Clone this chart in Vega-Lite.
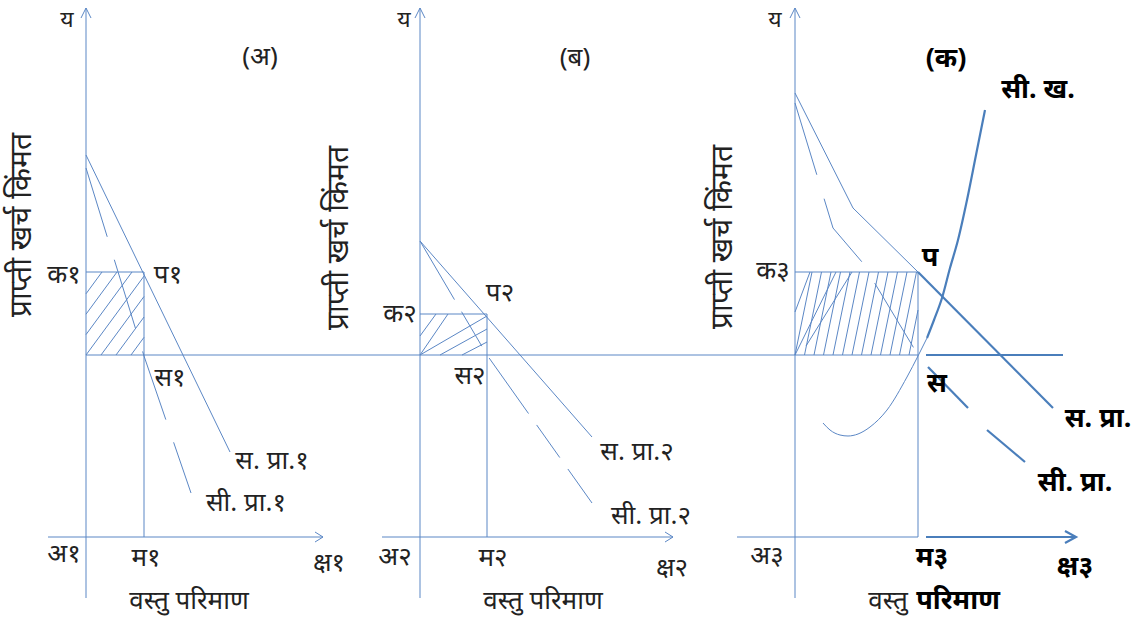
{
  "$schema": "https://vega.github.io/schema/vega-lite/v6.json",
  "width": 1148,
  "height": 622,
  "autosize": {"type": "fit", "contains": "padding"},
  "padding": 0,
  "background": "white",
  "config": {"view": {"stroke": null}},
  "datasets": {
    "segs": [
      {"role": "axis", "x": 86, "y": 8, "x2": 86, "y2": 598},
      {"role": "axis", "x": 48, "y": 537, "x2": 323, "y2": 537},
      {"role": "axis", "x": 420, "y": 8, "x2": 420, "y2": 598},
      {"role": "axis", "x": 382, "y": 537, "x2": 673, "y2": 537},
      {"role": "axis", "x": 795, "y": 8, "x2": 795, "y2": 598},
      {"role": "axis", "x": 737, "y": 537, "x2": 918, "y2": 537},
      {"role": "guide", "x": 86, "y": 355, "x2": 918, "y2": 355},
      {"role": "guide", "x": 86, "y": 272, "x2": 144, "y2": 272},
      {"role": "guide", "x": 144, "y": 272, "x2": 144, "y2": 537},
      {"role": "guide", "x": 420, "y": 314, "x2": 487, "y2": 314},
      {"role": "guide", "x": 487, "y": 314, "x2": 487, "y2": 537},
      {"role": "guide", "x": 795, "y": 272, "x2": 918, "y2": 272},
      {"role": "guide", "x": 918, "y": 272, "x2": 918, "y2": 537},
      {"role": "ext", "x": 926, "y": 355, "x2": 1063, "y2": 355},
      {"role": "ext", "x": 926, "y": 537, "x2": 1075, "y2": 537},
      {"role": "hatch", "x": 86, "y": 293.8, "x2": 102, "y2": 272},
      {"role": "hatch", "x": 86, "y": 314.2, "x2": 117, "y2": 272},
      {"role": "hatch", "x": 86, "y": 334.6, "x2": 132, "y2": 272},
      {"role": "hatch", "x": 86, "y": 355, "x2": 144, "y2": 276.1},
      {"role": "hatch", "x": 101, "y": 355, "x2": 144, "y2": 296.5},
      {"role": "hatch", "x": 116, "y": 355, "x2": 144, "y2": 317},
      {"role": "hatch", "x": 131, "y": 355, "x2": 144, "y2": 337.3},
      {"role": "hatch", "x": 420, "y": 336, "x2": 436, "y2": 314},
      {"role": "hatch", "x": 420, "y": 355, "x2": 448, "y2": 314},
      {"role": "hatch", "x": 420, "y": 355, "x2": 487, "y2": 316},
      {"role": "hatch", "x": 440, "y": 355, "x2": 487, "y2": 329},
      {"role": "hatch", "x": 462, "y": 355, "x2": 487, "y2": 342},
      {"role": "hatch", "x": 795, "y": 355, "x2": 812, "y2": 272},
      {"role": "hatch", "x": 804.5, "y": 355, "x2": 821.5, "y2": 272},
      {"role": "hatch", "x": 814, "y": 355, "x2": 831, "y2": 272},
      {"role": "hatch", "x": 823.5, "y": 355, "x2": 840.5, "y2": 272},
      {"role": "hatch", "x": 833, "y": 355, "x2": 850, "y2": 272},
      {"role": "hatch", "x": 842.5, "y": 355, "x2": 859.5, "y2": 272},
      {"role": "hatch", "x": 852, "y": 355, "x2": 869, "y2": 272},
      {"role": "hatch", "x": 861.5, "y": 355, "x2": 878.5, "y2": 272},
      {"role": "hatch", "x": 871, "y": 355, "x2": 888, "y2": 272},
      {"role": "hatch", "x": 880.5, "y": 355, "x2": 897.5, "y2": 272},
      {"role": "hatch", "x": 890, "y": 355, "x2": 907, "y2": 272},
      {"role": "hatch", "x": 899.5, "y": 355, "x2": 916.5, "y2": 272},
      {"role": "hatch", "x": 909, "y": 355, "x2": 918, "y2": 310},
      {"role": "hatch", "x": 795, "y": 312, "x2": 810, "y2": 272},
      {"role": "hatch", "x": 795, "y": 355, "x2": 836, "y2": 272},
      {"role": "hatch", "x": 806, "y": 346, "x2": 852, "y2": 272}
    ],
    "curves": [
      {"curve": "sp1", "i": 0, "x": 86, "y": 155},
      {"curve": "sp1", "i": 1, "x": 230, "y": 452},
      {"curve": "sp2", "i": 0, "x": 420, "y": 241},
      {"curve": "sp2", "i": 1, "x": 592, "y": 437},
      {"curve": "sp3", "i": 0, "x": 795, "y": 93},
      {"curve": "sp3", "i": 1, "x": 853, "y": 208},
      {"curve": "sp3", "i": 2, "x": 918, "y": 272},
      {"curve": "a1y", "i": 0, "x": 81, "y": 18},
      {"curve": "a1y", "i": 1, "x": 86, "y": 8},
      {"curve": "a1y", "i": 2, "x": 91, "y": 18},
      {"curve": "a1x", "i": 0, "x": 315, "y": 532},
      {"curve": "a1x", "i": 1, "x": 323, "y": 537},
      {"curve": "a1x", "i": 2, "x": 315, "y": 542},
      {"curve": "a2y", "i": 0, "x": 415, "y": 18},
      {"curve": "a2y", "i": 1, "x": 420, "y": 8},
      {"curve": "a2y", "i": 2, "x": 425, "y": 18},
      {"curve": "a2x", "i": 0, "x": 665, "y": 532},
      {"curve": "a2x", "i": 1, "x": 673, "y": 537},
      {"curve": "a2x", "i": 2, "x": 665, "y": 542},
      {"curve": "a3y", "i": 0, "x": 790, "y": 18},
      {"curve": "a3y", "i": 1, "x": 795, "y": 8},
      {"curve": "a3y", "i": 2, "x": 800, "y": 18},
      {"curve": "cp1", "i": 0, "x": 86, "y": 168},
      {"curve": "cp1", "i": 1, "x": 144, "y": 356},
      {"curve": "cp1", "i": 2, "x": 191, "y": 493},
      {"curve": "cp2", "i": 0, "x": 420, "y": 241},
      {"curve": "cp2", "i": 1, "x": 487, "y": 355},
      {"curve": "cp2", "i": 2, "x": 592, "y": 503},
      {"curve": "cp3", "i": 0, "x": 795, "y": 103},
      {"curve": "cp3", "i": 1, "x": 833, "y": 228},
      {"curve": "cp3", "i": 2, "x": 862, "y": 262},
      {"curve": "cp3", "i": 3, "x": 918, "y": 355},
      {"curve": "sp3b", "i": 0, "x": 918, "y": 272},
      {"curve": "sp3b", "i": 1, "x": 1053, "y": 408},
      {"curve": "cp3b1", "i": 0, "x": 928, "y": 367},
      {"curve": "cp3b1", "i": 1, "x": 968, "y": 408},
      {"curve": "cp3b2", "i": 0, "x": 987, "y": 430},
      {"curve": "cp3b2", "i": 1, "x": 1025, "y": 462},
      {"curve": "a3x", "i": 0, "x": 1065, "y": 531},
      {"curve": "a3x", "i": 1, "x": 1076, "y": 537},
      {"curve": "a3x", "i": 2, "x": 1065, "y": 543}
    ],
    "mc": [
      {"part": "thin", "i": 0, "x": 823, "y": 423},
      {"part": "thin", "i": 1, "x": 830, "y": 430},
      {"part": "thin", "i": 2, "x": 840, "y": 435},
      {"part": "thin", "i": 3, "x": 848, "y": 436},
      {"part": "thin", "i": 4, "x": 858, "y": 434},
      {"part": "thin", "i": 5, "x": 870, "y": 427},
      {"part": "thin", "i": 6, "x": 887, "y": 410},
      {"part": "thin", "i": 7, "x": 907, "y": 377},
      {"part": "thin", "i": 8, "x": 918, "y": 356},
      {"part": "thin", "i": 9, "x": 927, "y": 338},
      {"part": "thick", "i": 0, "x": 927, "y": 338},
      {"part": "thick", "i": 1, "x": 934, "y": 320},
      {"part": "thick", "i": 2, "x": 942, "y": 298},
      {"part": "thick", "i": 3, "x": 950, "y": 268},
      {"part": "thick", "i": 4, "x": 958, "y": 240},
      {"part": "thick", "i": 5, "x": 967, "y": 200},
      {"part": "thick", "i": 6, "x": 976, "y": 155},
      {"part": "thick", "i": 7, "x": 985, "y": 110}
    ],
    "ylabels": [
      {"text": "य", "x": 67, "y": 27},
      {"text": "य", "x": 404, "y": 27},
      {"text": "य", "x": 775, "y": 27}
    ],
    "labels": [
      {"panel": 1, "text": "(अ)", "x": 260, "y": 57},
      {"panel": 1, "text": "क१", "x": 64, "y": 275},
      {"panel": 1, "text": "प१", "x": 168, "y": 275},
      {"panel": 1, "text": "स१", "x": 170, "y": 378},
      {"panel": 1, "text": "स. प्रा.१", "x": 272, "y": 461},
      {"panel": 1, "text": "सी. प्रा.१", "x": 246, "y": 503},
      {"panel": 1, "text": "अ१", "x": 64, "y": 554},
      {"panel": 1, "text": "म१", "x": 146, "y": 558},
      {"panel": 1, "text": "क्ष१", "x": 329, "y": 563},
      {"panel": 1, "text": "वस्तु परिमाण", "x": 189, "y": 601},
      {"panel": 2, "text": "(ब)", "x": 575, "y": 58},
      {"panel": 2, "text": "क२", "x": 400, "y": 314},
      {"panel": 2, "text": "प२", "x": 500, "y": 293},
      {"panel": 2, "text": "स२", "x": 470, "y": 376},
      {"panel": 2, "text": "स. प्रा.२", "x": 637, "y": 452},
      {"panel": 2, "text": "सी. प्रा.२", "x": 651, "y": 516},
      {"panel": 2, "text": "अ२", "x": 395, "y": 557},
      {"panel": 2, "text": "म२", "x": 493, "y": 558},
      {"panel": 2, "text": "क्ष२", "x": 672, "y": 568},
      {"panel": 2, "text": "वस्तु परिमाण", "x": 543, "y": 601},
      {"panel": 3, "text": "क३", "x": 773, "y": 271},
      {"panel": 3, "text": "अ३", "x": 767, "y": 556},
      {"panel": 3, "text": "वस्तु", "x": 888, "y": 601}
    ],
    "bold": [
      {"text": "(क)", "x": 946, "y": 59},
      {"text": "सी. ख.", "x": 1038, "y": 90},
      {"text": "प", "x": 930, "y": 258},
      {"text": "स", "x": 937, "y": 384},
      {"text": "स. प्रा.", "x": 1098, "y": 419},
      {"text": "सी. प्रा.", "x": 1075, "y": 483},
      {"text": "म३", "x": 932, "y": 558},
      {"text": "क्ष३", "x": 1075, "y": 567},
      {"text": "परिमाण", "x": 958, "y": 601}
    ],
    "titles": [
      {"text": "प्राप्ती खर्च किंमत", "x": 22, "y": 225},
      {"text": "प्राप्ती खर्च किंमत", "x": 339, "y": 238},
      {"text": "प्राप्ती खर्च किंमत", "x": 723, "y": 237}
    ]
  },
  "encoding": {
    "x": {"field": "x", "type": "quantitative", "axis": null, "scale": {"domain": [0, 1148], "nice": false, "zero": false}},
    "y": {"field": "y", "type": "quantitative", "axis": null, "scale": {"domain": [0, 622], "nice": false, "zero": false, "reverse": true}}
  },
  "layer": [
    {
      "data": {"name": "segs"},
      "transform": [{"filter": "datum.role !== 'ext'"}],
      "mark": {"type": "rule", "stroke": "#5b87c5", "strokeWidth": 1},
      "encoding": {"x2": {"field": "x2"}, "y2": {"field": "y2"}}
    },
    {
      "data": {"name": "segs"},
      "transform": [{"filter": "datum.role === 'ext'"}],
      "mark": {"type": "rule", "stroke": "#4a7ebb", "strokeWidth": 2.2},
      "encoding": {"x2": {"field": "x2"}, "y2": {"field": "y2"}}
    },
    {
      "data": {"name": "curves"},
      "transform": [{"filter": {"field": "curve", "oneOf": ["sp1", "sp2", "sp3", "a1y", "a1x", "a2y", "a2x", "a3y"]}}],
      "mark": {"type": "line", "stroke": "#5b87c5", "strokeWidth": 1},
      "encoding": {"detail": {"field": "curve"}, "order": {"field": "i", "type": "quantitative"}}
    },
    {
      "data": {"name": "curves"},
      "transform": [{"filter": "datum.curve === 'cp1'"}],
      "mark": {"type": "line", "stroke": "#5b87c5", "strokeWidth": 1, "strokeDash": [72, 24]},
      "encoding": {"order": {"field": "i", "type": "quantitative"}}
    },
    {
      "data": {"name": "curves"},
      "transform": [{"filter": "datum.curve === 'cp2'"}],
      "mark": {"type": "line", "stroke": "#5b87c5", "strokeWidth": 1, "strokeDash": [68, 14, 40, 14]},
      "encoding": {"order": {"field": "i", "type": "quantitative"}}
    },
    {
      "data": {"name": "curves"},
      "transform": [{"filter": "datum.curve === 'cp3'"}],
      "mark": {"type": "line", "stroke": "#5b87c5", "strokeWidth": 1, "strokeDash": [75, 25]},
      "encoding": {"order": {"field": "i", "type": "quantitative"}}
    },
    {
      "data": {"name": "curves"},
      "transform": [{"filter": {"field": "curve", "oneOf": ["sp3b", "cp3b1", "cp3b2", "a3x"]}}],
      "mark": {"type": "line", "stroke": "#4a7ebb", "strokeWidth": 2.2},
      "encoding": {"detail": {"field": "curve"}, "order": {"field": "i", "type": "quantitative"}}
    },
    {
      "data": {"name": "mc"},
      "transform": [{"filter": "datum.part === 'thin'"}],
      "mark": {"type": "line", "stroke": "#5b87c5", "strokeWidth": 1, "interpolate": "monotone"},
      "encoding": {"order": {"field": "i", "type": "quantitative"}}
    },
    {
      "data": {"name": "mc"},
      "transform": [{"filter": "datum.part === 'thick'"}],
      "mark": {"type": "line", "stroke": "#4a7ebb", "strokeWidth": 2.2, "interpolate": "monotone"},
      "encoding": {"order": {"field": "i", "type": "quantitative"}}
    },
    {
      "data": {"name": "ylabels"},
      "mark": {"type": "text", "fontSize": 23, "color": "#222222", "align": "center", "baseline": "alphabetic", "font": "Noto Sans"},
      "encoding": {"text": {"field": "text"}}
    },
    {
      "data": {"name": "labels"},
      "mark": {"type": "text", "fontSize": 26, "color": "#222222", "align": "center", "baseline": "middle", "font": "Noto Sans"},
      "encoding": {"text": {"field": "text"}}
    },
    {
      "data": {"name": "bold"},
      "mark": {"type": "text", "fontSize": 27, "fontWeight": "bold", "color": "#000000", "align": "center", "baseline": "middle", "font": "Noto Sans"},
      "encoding": {"text": {"field": "text"}}
    },
    {
      "data": {"name": "titles"},
      "mark": {"type": "text", "fontSize": 30, "angle": 270, "color": "#222222", "align": "center", "baseline": "middle", "font": "Noto Sans"},
      "encoding": {"text": {"field": "text"}}
    }
  ]
}
